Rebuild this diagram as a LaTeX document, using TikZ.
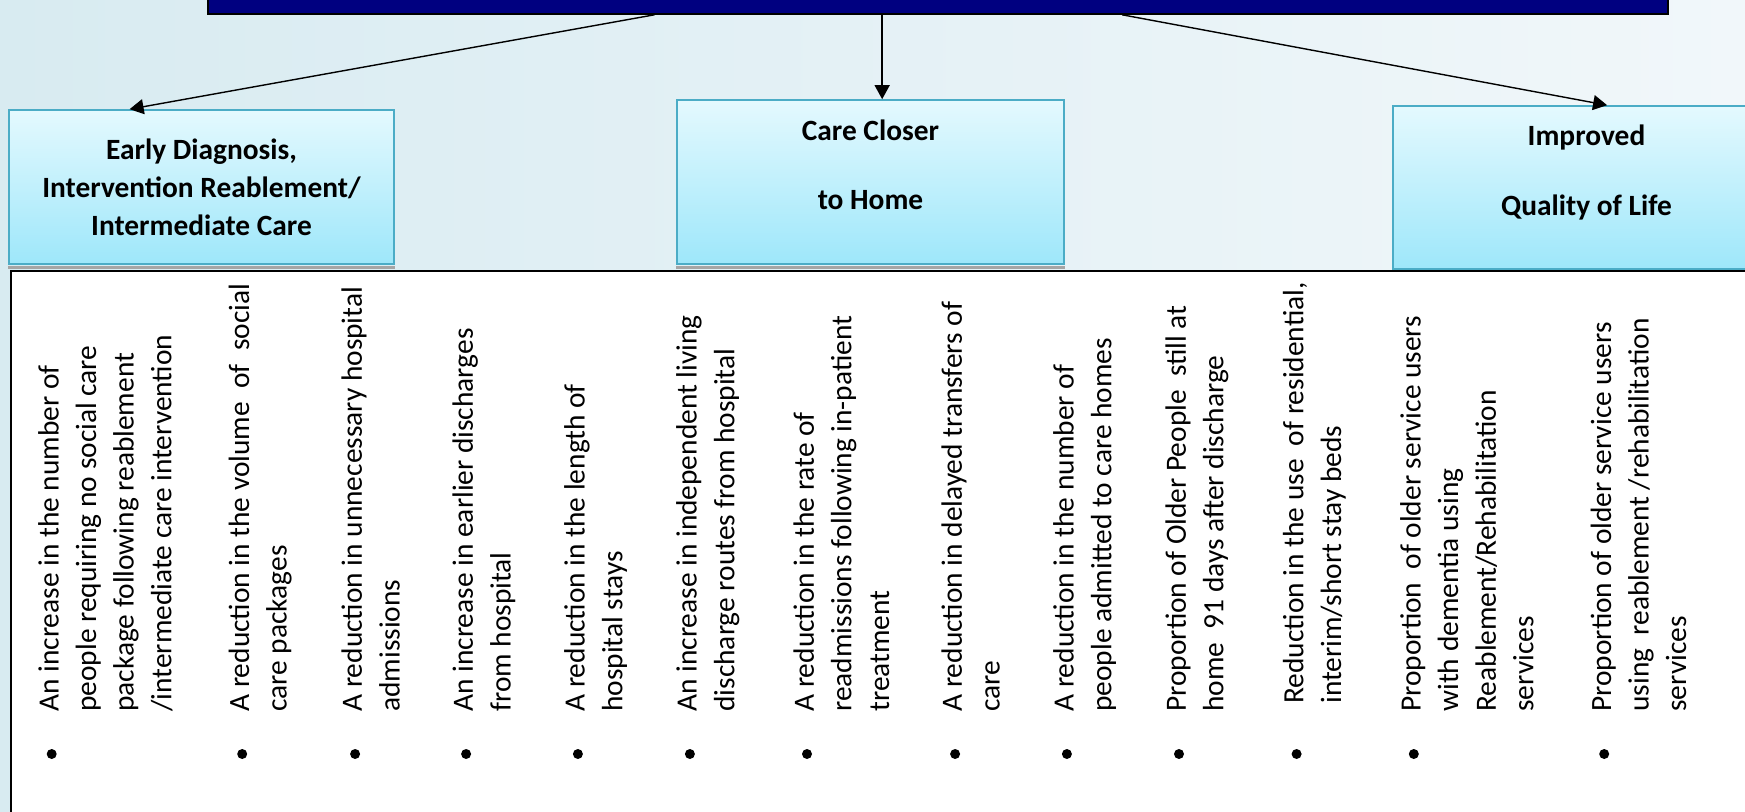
\documentclass[tikz,border=0pt]{standalone}
\usepackage{fontspec}
\setmainfont{Carlito}
\usetikzlibrary{arrows.meta,calc}
\definecolor{bgleft}{RGB}{216,235,241}
\definecolor{bgright}{RGB}{241,247,250}
\definecolor{aimfill}{RGB}{0,0,128}
\definecolor{boxtop}{RGB}{228,249,254}
\definecolor{boxbottom}{RGB}{158,231,250}
\definecolor{boxedge}{RGB}{75,172,198}
\definecolor{shadowgray}{RGB}{165,165,165}
\tikzset{
  outcome/.style={draw=boxedge, line width=0.8pt, top color=boxtop, bottom color=boxbottom,
    align=center, inner sep=0pt, font=\bfseries\fontsize{14.7}{19}\selectfont},
  spaced/.style={font=\bfseries\fontsize{14.7}{17.3}\selectfont},
  itemtext/.style={rotate=90, anchor=north west, align=left, inner sep=0pt,
    font=\fontsize{14.7}{18.8}\selectfont},
  bulletdot/.style={circle, fill=black, inner sep=0pt, minimum size=5pt},
  link/.style={-{Triangle[length=7pt,width=7.5pt]}, line width=0.7pt},
}

\begin{document}
\begin{tikzpicture}[x=0.5pt, y=-0.5pt]
  \useasboundingbox (0,0) rectangle (1745,812);
  \clip (0,0) rectangle (1745,812);
  \shade[left color=bgleft, right color=bgright] (0,0) rectangle (1745,812);

  % aim box, cut off at the top
  \node[draw=black, line width=0.8pt, fill=aimfill, minimum width=730pt,
        minimum height=20pt, inner sep=0pt] (aim) at (938,-6) {};

  % outcomes
  \node[outcome, minimum width=192.5pt, minimum height=77pt] (early) at (201.5,187)
    {Early Diagnosis,\\Intervention Reablement/\\Intermediate Care};
  \node[outcome, spaced, minimum width=193.5pt, minimum height=82pt] (closer) at (870.5,182)
    {Care Closer\\\mbox{}\\to Home\\\mbox{}};
  \node[outcome, spaced, minimum width=193.5pt, minimum height=81.5pt] (quality) at (1586.5,187.5)
    {Improved\\\mbox{}\\Quality of Life\\\mbox{}};
  \foreach \b in {early,closer,quality}
    \fill[shadowgray] ([yshift=-0.4pt]\b.south west) rectangle ([yshift=-2.2pt]\b.south east);

  \coordinate (early in)   at ($(early.north west)!0.314!(early.north east)$);
  \coordinate (closer in)  at ($(closer.north west)!0.53!(closer.north east)$);
  \coordinate (quality in) at ($(quality.north west)!0.553!(quality.north east)$);
  \draw[link] ($(aim.south west)!0.306!(aim.south east)$) -- (early in);
  \draw[link] (aim.south -| closer in) -- (closer in);
  \draw[link] ($(aim.south west)!0.626!(aim.south east)$) -- (quality in);

  % indicators
  \draw[line width=1pt, fill=white] (11,271) rectangle (1790,840);
  \foreach \x [count=\i] in {51.7,242.2,355.1,466.1,577.9,689.9,807,955.1,1066.9,1179,1296.6,1413.8,1604.2}
    \node[bulletdot] (dot\i) at (\x,754) {};

  \node[itemtext] (ind1) at ([shift={(-7pt,21pt)}]dot1.center)
    {An increase in the number of\\people requiring no social care\\package following reablement\\/intermediate care intervention};
  \node[itemtext] (ind2) at ([shift={(-7pt,21pt)}]dot2.center)
    {A reduction in the volume \ of \ social\\care packages};
  \node[itemtext] (ind3) at ([shift={(-7pt,21pt)}]dot3.center)
    {A reduction in unnecessary hospital\\admissions};
  \node[itemtext] (ind4) at ([shift={(-7pt,21pt)}]dot4.center)
    {An increase in earlier discharges\\from hospital};
  \node[itemtext] (ind5) at ([shift={(-7pt,21pt)}]dot5.center)
    {A reduction in the length of\\hospital stays};
  \node[itemtext] (ind6) at ([shift={(-7pt,21pt)}]dot6.center)
    {An increase in independent living\\discharge routes from hospital};
  \node[itemtext] (ind7) at ([shift={(-7pt,21pt)}]dot7.center)
    {A reduction in the rate of\\readmissions following in-patient\\treatment};
  \node[itemtext] (ind8) at ([shift={(-7pt,21pt)}]dot8.center)
    {A reduction in delayed transfers of\\care};
  \node[itemtext] (ind9) at ([shift={(-7pt,21pt)}]dot9.center)
    {A reduction in the number of\\people admitted to care homes};
  \node[itemtext] (ind10) at ([shift={(-7pt,21pt)}]dot10.center)
    {Proportion of Older People \ still at\\home \ 91 days after discharge};
  \node[itemtext] (ind11) at ([shift={(-7pt,25pt)}]dot11.center)
    {Reduction in the use \ of residential,\\interim/short stay beds};
  \node[itemtext] (ind12) at ([shift={(-7pt,21pt)}]dot12.center)
    {Proportion \ of older service users\\with dementia using\\Reablement/Rehabilitation\\services};
  \node[itemtext] (ind13) at ([shift={(-7pt,21pt)}]dot13.center)
    {Proportion of older service users\\using \ reablement /rehabilitation\\services};
\end{tikzpicture}
\end{document}
